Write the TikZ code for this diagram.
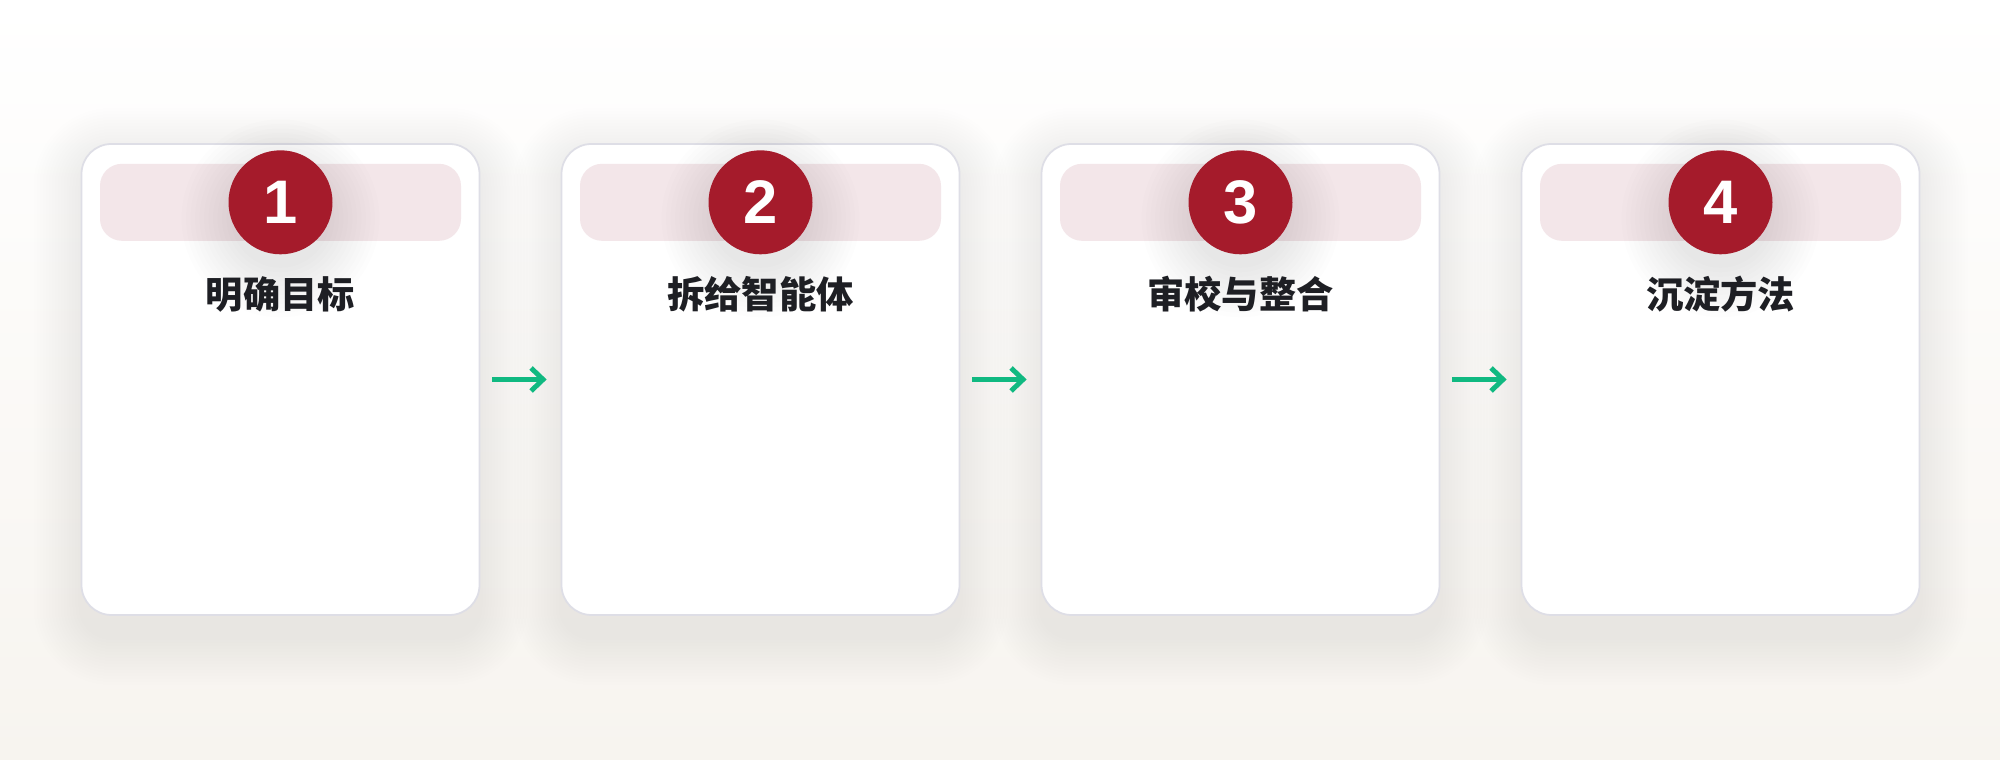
\documentclass[tikz,border=0pt]{standalone}
\usepackage{fontspec}
\setmainfont{Liberation Sans}
\newfontfamily\cjk{Noto Sans CJK SC}
\usetikzlibrary{arrows.meta,positioning}
\definecolor{stepred}{RGB}{165,27,43}
\definecolor{bandpink}{RGB}{243,230,233}
\definecolor{cardline}{RGB}{222,222,230}
\definecolor{titleink}{RGB}{30,31,36}
\definecolor{flowgreen}{RGB}{16,185,129}
\definecolor{bgcream}{RGB}{247,244,239}
\begin{document}
\begin{tikzpicture}[
  card/.style={draw=cardline,line width=0.5pt,fill=white,rounded corners=0.3cm,minimum width=3.98cm,minimum height=4.71cm,inner sep=0},
  band/.style={fill=bandpink,rounded corners=0.22cm,minimum width=3.61cm,minimum height=0.77cm,inner sep=0},
  num/.style={circle,fill=stepred,minimum size=1.04cm,inner sep=0,text=white,font=\bfseries\fontsize{17.5}{17.5}\selectfont},
  title/.style={text=titleink,inner sep=0,font=\cjk\bfseries\fontsize{10.6}{12}\selectfont},
  flow/.style={draw=flowgreen,line width=1.4pt,-{Straight Barb[length=1.2mm,width=2.3mm]}}]
\useasboundingbox (0,0) rectangle (20,7.6);
\shade[top color=white,bottom color=bgcream] (0,0) rectangle (20,7.6);
% cards
\foreach \i/\name in {1/明确目标,2/拆给智能体,3/审校与整合,4/沉淀方法} {
  \pgfmathsetmacro\cx{2.805+4.8*(\i-1)}
  \foreach \s in {1,...,16}
    \fill[black,opacity=0.0045,rounded corners=0.3cm+\s*0.03cm] (\cx-1.99-\s*0.03,1.45-0.22-\s*0.03) rectangle (\cx+1.99+\s*0.03,6.16-0.12+\s*0.03);
  \node[card] (c\i) at (\cx,3.805) {};
  \node[band,below=0.2cm of c\i.north] (b\i) {};
  \foreach \r in {1,...,12}
    \fill[black,opacity=0.007] ([yshift=-0.16cm]b\i.center) circle (0.45+\r*0.045);
  \node[num] (n\i) at (b\i.center) {\i};
  \node[title] (t\i) at ([yshift=-1.51cm]c\i.north) {\name};
}
% connectors
\foreach \i/\j in {1/2,2/3,3/4}
  \draw[flow,shorten <=0.12cm,shorten >=0.14cm] (c\i) -- (c\j);
\end{tikzpicture}
\end{document}
